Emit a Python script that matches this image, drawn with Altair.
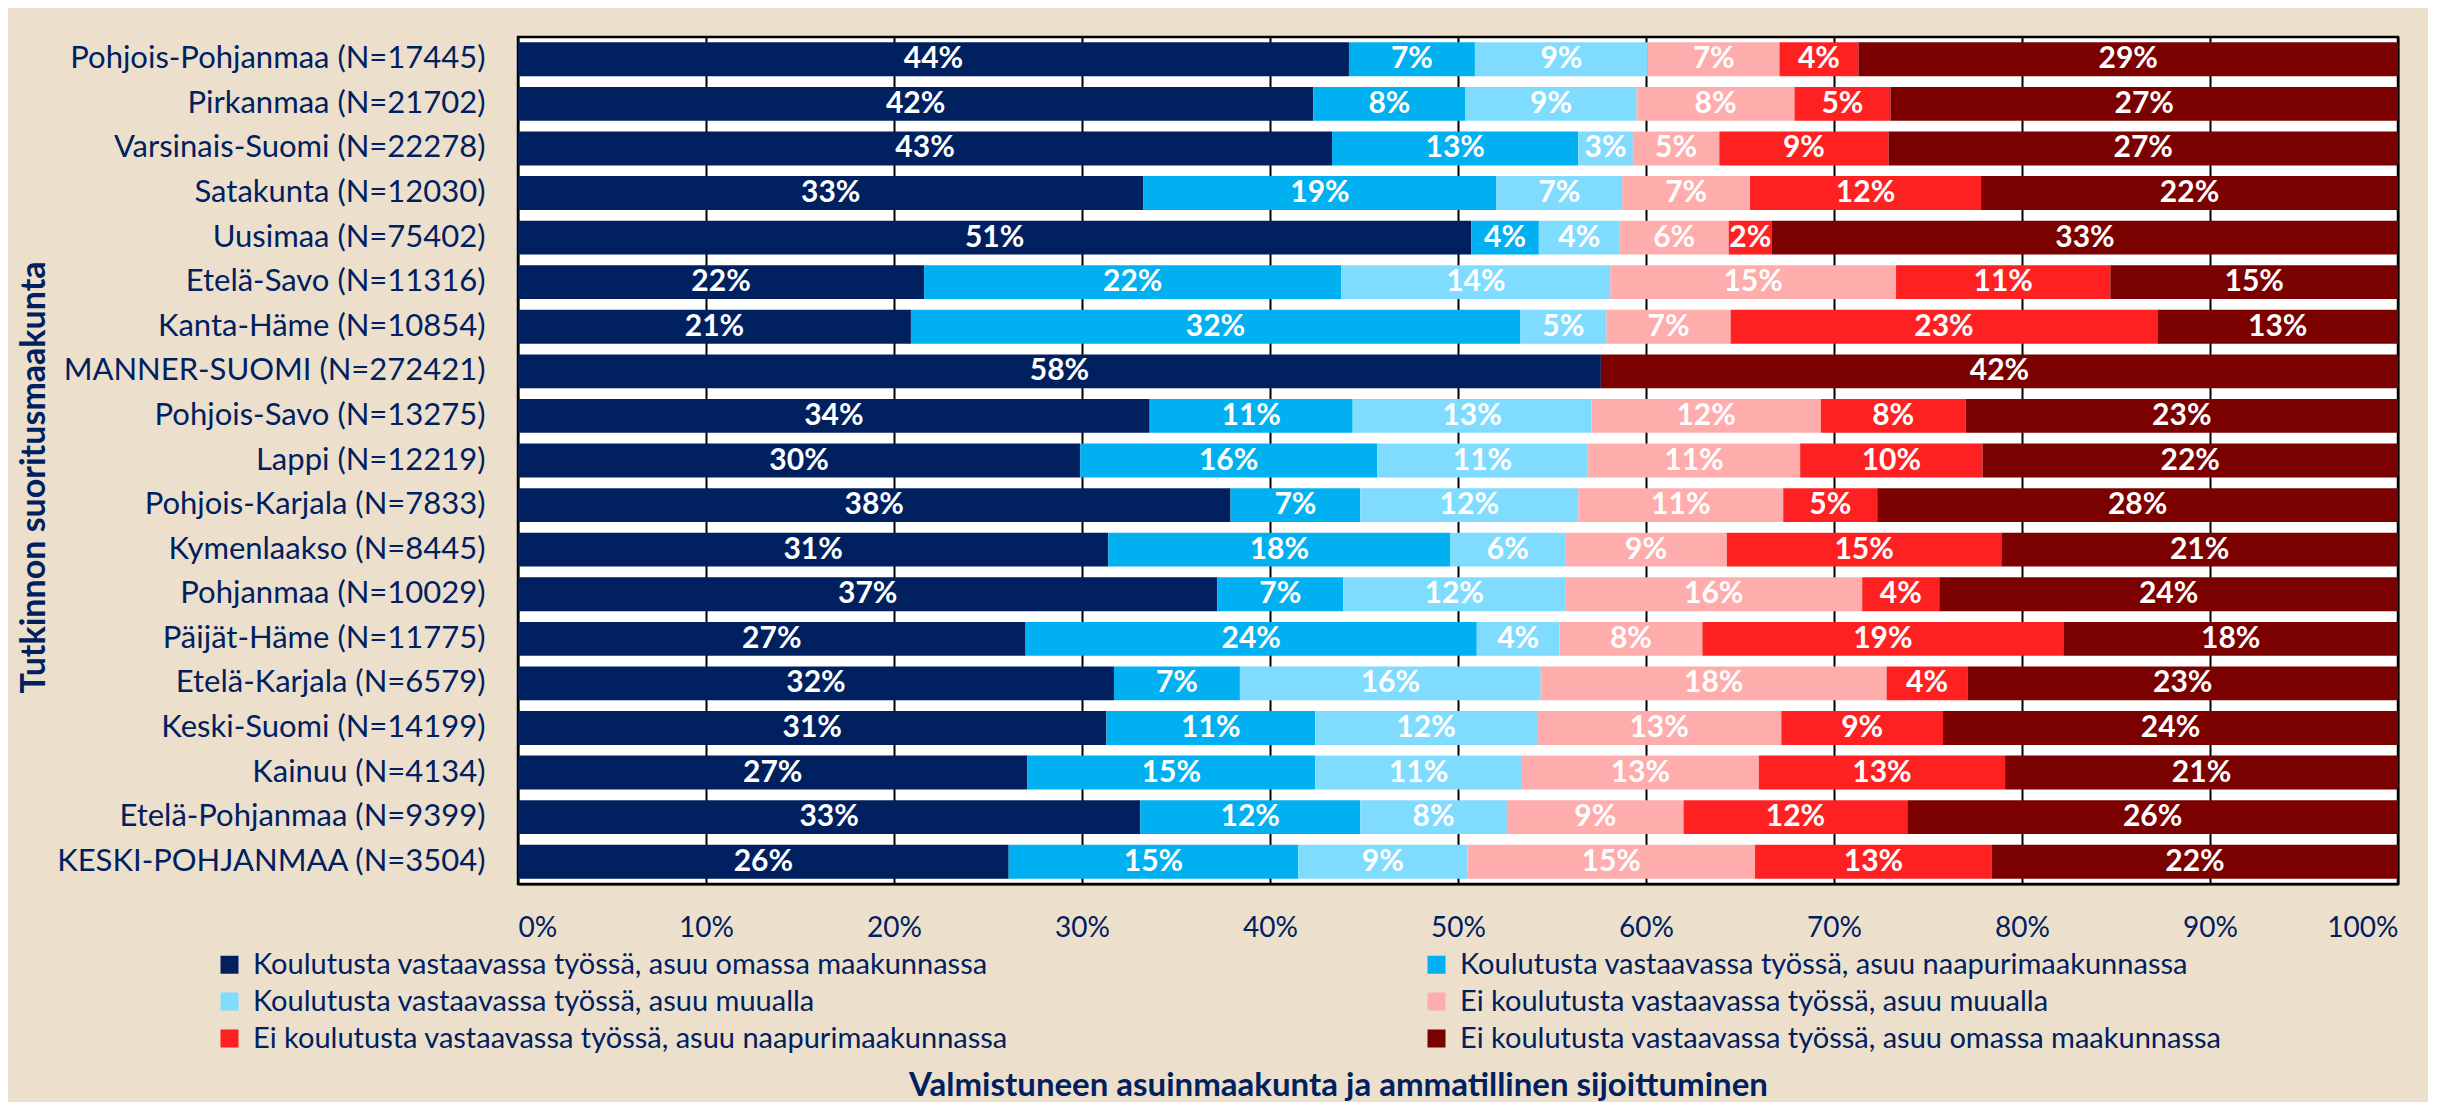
import altair as alt
import pandas as pd

regions = [
    "Pohjois-Pohjanmaa (N=17445)", "Pirkanmaa (N=21702)", "Varsinais-Suomi (N=22278)",
    "Satakunta (N=12030)", "Uusimaa (N=75402)", "Etelä-Savo (N=11316)",
    "Kanta-Häme (N=10854)", "MANNER-SUOMI (N=272421)", "Pohjois-Savo (N=13275)",
    "Lappi (N=12219)", "Pohjois-Karjala (N=7833)", "Kymenlaakso (N=8445)",
    "Pohjanmaa (N=10029)", "Päijät-Häme (N=11775)", "Etelä-Karjala (N=6579)",
    "Keski-Suomi (N=14199)", "Kainuu (N=4134)", "Etelä-Pohjanmaa (N=9399)",
    "KESKI-POHJANMAA (N=3504)",
]

series = [
    "Koulutusta vastaavassa työssä, asuu omassa maakunnassa",
    "Koulutusta vastaavassa työssä, asuu naapurimaakunnassa",
    "Koulutusta vastaavassa työssä, asuu muualla",
    "Ei koulutusta vastaavassa työssä, asuu muualla",
    "Ei koulutusta vastaavassa työssä, asuu naapurimaakunnassa",
    "Ei koulutusta vastaavassa työssä, asuu omassa maakunnassa",
]

colors = ["#002060", "#00B0F0", "#7FDCFF", "#FFACAC", "#FF2121", "#7B0000"]

# percentages per series, in region order
s1 = [44.2, 42.3, 43.3, 33.3, 50.7, 21.6, 20.9, 57.6, 33.6, 29.9, 37.9, 31.4, 37.2, 27.0, 31.7, 31.3, 27.1, 33.1, 26.1]
s2 = [6.7, 8.1, 13.1, 18.8, 3.6, 22.2, 32.4, 0.0, 10.8, 15.8, 6.9, 18.2, 6.7, 24.0, 6.7, 11.1, 15.3, 11.7, 15.4]
s3 = [9.2, 9.1, 2.9, 6.7, 4.3, 14.3, 4.6, 0.0, 12.7, 11.2, 11.6, 6.1, 11.8, 4.4, 16.0, 11.8, 11.0, 7.8, 9.0]
s4 = [7.0, 8.4, 4.6, 6.8, 5.8, 15.2, 6.6, 0.0, 12.2, 11.3, 10.9, 8.6, 15.8, 7.6, 18.4, 13.0, 12.6, 9.4, 15.3]
s5 = [4.2, 5.1, 9.0, 12.3, 2.3, 11.4, 22.7, 0.0, 7.7, 9.7, 5.0, 14.6, 4.1, 19.2, 4.3, 8.6, 13.1, 11.9, 12.6]
s6 = [28.7, 27.0, 27.1, 22.2, 33.3, 15.3, 12.8, 42.4, 23.0, 22.1, 27.7, 21.1, 24.4, 17.8, 22.9, 24.2, 20.9, 26.1, 21.6]

x_ticks = [0, 0.1, 0.2, 0.3, 0.4, 0.5, 0.6, 0.7, 0.8, 0.9, 1.0]

rows = []
for si, vals in enumerate([s1, s2, s3, s4, s5, s6]):
    for ri, r in enumerate(regions):
        rows.append({"region": r, "series": series[si], "order": si, "value": vals[ri]})
df = pd.DataFrame(rows)

# legend is filled column by column: reorder so it reads row by row like the original
legend_idx = [0, 2, 4, 1, 3, 5]
legend_domain = [series[i] for i in legend_idx]
legend_range = [colors[i] for i in legend_idx]

NAVY = "#002060"
FONT = "Lato"

base = alt.Chart(df).transform_stack(
    stack="value", groupby=["region"], as_=["x0", "x1"],
    sort=[alt.SortField("order", "ascending")], offset="normalize"
).transform_calculate(
    mid="(datum.x0 + datum.x1) / 2",
    label="format(datum.value, '.0f') + '%'"
)

y_enc = alt.Y("region:N", sort=regions, title="Tutkinnon suoritusmaakunta",
              scale=alt.Scale(paddingInner=0.24, paddingOuter=0.12),
              axis=alt.Axis(labelFont=FONT, labelFontSize=31, labelColor=NAVY,
                            labelPadding=33, ticks=False, domain=False, grid=False,
                            labelLimit=0,
                            titleFont=FONT, titleFontSize=34, titleFontWeight="bold",
                            titleColor=NAVY, titleX=-484, titleY=440, titleAngle=270,
                            titleAlign="center", titleBaseline="middle"))

bars = base.mark_bar().encode(
    x=alt.X("x0:Q", scale=alt.Scale(domain=[0, 1]),
            title="Valmistuneen asuinmaakunta ja ammatillinen sijoittuminen",
            axis=alt.Axis(values=x_ticks, format=".0%", labelFont=FONT, labelFontSize=28,
                          labelColor=NAVY, labelPadding=30, ticks=False,
                          domainColor="#000000", domainWidth=2,
                          grid=True, gridColor="#000000", gridWidth=2,
                          titleFont=FONT, titleFontSize=33, titleFontWeight="bold",
                          titleColor=NAVY, titleX=820, titleY=201,
                          titleAlign="center", titleBaseline="middle")),
    x2="x1:Q",
    y=y_enc,
    color=alt.Color("series:N",
                    scale=alt.Scale(domain=legend_domain, range=legend_range),
                    legend=alt.Legend(title=None, orient="none", legendX=-303, legendY=913,
                                      columns=2, columnPadding=414, rowPadding=7,
                                      symbolType="square", symbolSize=324,
                                      symbolStrokeWidth=0, labelOffset=9,
                                      labelFont=FONT, labelFontSize=29, labelColor=NAVY,
                                      labelLimit=0)),
)

labels = base.transform_filter("datum.value > 0").mark_text(
    color="white", font=FONT, fontSize=30, fontWeight="bold", baseline="middle", align="center"
).encode(
    x=alt.X("mid:Q"),
    y=alt.Y("region:N", sort=regions),
    text="label:N",
)

chart = alt.layer(bars, labels).properties(
    width=1880, height=847,
    background="#ECE0CD",
    padding={"left": 510, "top": 29, "right": 30, "bottom": 218},
    autosize=alt.AutoSizeParams(type="none"),
).configure_view(
    fill="white", stroke="#000000", strokeWidth=2.5
)

chart.save("out.html", embed_options={"renderer": "svg", "actions": False})
